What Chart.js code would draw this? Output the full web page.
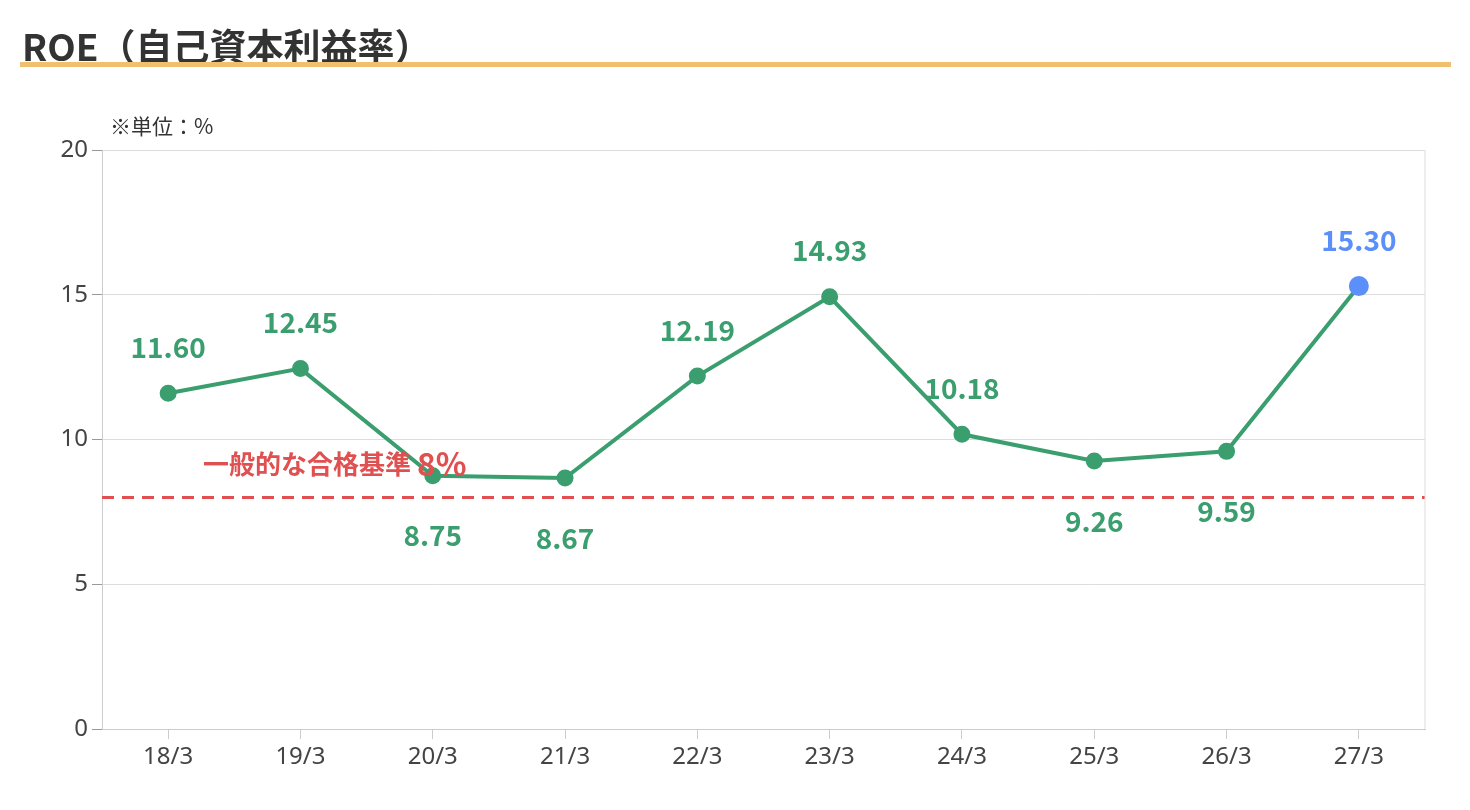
<!DOCTYPE html>
<html><head><meta charset="utf-8">
<script src="https://cdn.jsdelivr.net/npm/chart.js@4/dist/chart.umd.min.js"></script>
<style>
body{margin:0;width:1470px;height:810px;background:#fff;font-family:"Noto Sans CJK JP","Noto Sans",sans-serif;overflow:hidden;position:relative}
#t{position:absolute;left:22px;top:18px;font-size:37px;font-weight:bold;color:#333;z-index:2}
#u{position:absolute;left:20px;top:62px;width:1431px;height:5px;background:#f0c070;z-index:2}
#s{position:absolute;left:110px;top:110px;font-size:21px;color:#333;z-index:2}
#c{position:absolute;left:0;top:0}
</style></head><body>
<div id="t">ROE（自己資本利益率）</div><div id="u"></div><div id="s">※単位：%</div>
<canvas id="c" width="1470" height="810" style="width:1470px;height:810px"></canvas>
<script>
const categories=["18/3","19/3","20/3","21/3","22/3","23/3","24/3","25/3","26/3","27/3"];
const roe=[11.60,12.45,8.75,8.67,12.19,14.93,10.18,9.26,9.59,15.30];
const below=[false,false,true,true,false,false,false,true,true,false];
const yTicks=[0,5,10,15,20];
const benchmark=8;
const green="#3a9e6e",blue="#5b8ff9",red="#e05050";
const deco={id:"deco",afterDatasetsDraw(ch){
 const c=ch.ctx,x=ch.scales.x,y=ch.scales.y,a=ch.chartArea;
 c.save();
 const yb=y.getPixelForValue(benchmark);
 c.strokeStyle=red;c.lineWidth=3;c.setLineDash([12,8]);
 c.beginPath();c.moveTo(a.left,yb);c.lineTo(a.right,yb);c.stroke();c.setLineDash([]);
 c.fillStyle=red;c.textBaseline="alphabetic";c.textAlign="left";
 c.font='bold 26px "Noto Sans CJK JP"';c.fillText("一般的な合格基準",203,474);
 const w=c.measureText("一般的な合格基準 ").width;
 c.font='bold 32px "Noto Sans CJK JP"';c.fillText("8%",203+w,476);
 c.textAlign="center";c.textBaseline="middle";c.font='bold 28px "Noto Sans CJK JP"';
 roe.forEach((v,i)=>{
  const px=x.getPixelForValue(i),py=y.getPixelForValue(v);
  c.fillStyle=i===roe.length-1?blue:green;
  c.fillText(v.toFixed(2),px,below[i]?py+60:py-46);
 });
 c.restore();
}};
new Chart(document.getElementById("c"),{type:"line",
 data:{labels:categories,datasets:[{data:roe,borderColor:green,borderWidth:4,
  pointBackgroundColor:roe.map((v,i)=>i===roe.length-1?blue:green),
  pointBorderColor:roe.map((v,i)=>i===roe.length-1?blue:green),
  pointRadius:roe.map((v,i)=>i===roe.length-1?8:6.5),tension:0}]},
 options:{responsive:false,animation:false,devicePixelRatio:1,
  layout:{padding:{top:150,right:45,left:0,bottom:0}},
  plugins:{legend:{display:false},tooltip:{enabled:false}},
  scales:{
   x:{offset:true,grid:{display:true,drawOnChartArea:false,tickLength:10,color:"#ccc"},border:{color:"#ccc"},
      ticks:{color:"#444",font:{size:24,family:"Noto Sans"},padding:4},afterFit(s){s.height=81}},
   y:{min:0,max:20,afterBuildTicks(s){s.ticks=yTicks.map(v=>({value:v}))},
      grid:{color:"#ddd",tickLength:10,tickColor:"#999"},border:{color:"#ccc"},
      ticks:{color:"#444",font:{size:24,family:"Noto Sans"},padding:4},afterFit(s){s.width=102}}
  }},plugins:[deco,{id:"bd",afterDraw(ch){const c=ch.ctx,a=ch.chartArea;c.save();c.strokeStyle="#ddd";c.lineWidth=1;c.beginPath();c.moveTo(a.right,a.top);c.lineTo(a.right,a.bottom);c.stroke();c.restore();}}]});
</script></body></html>
